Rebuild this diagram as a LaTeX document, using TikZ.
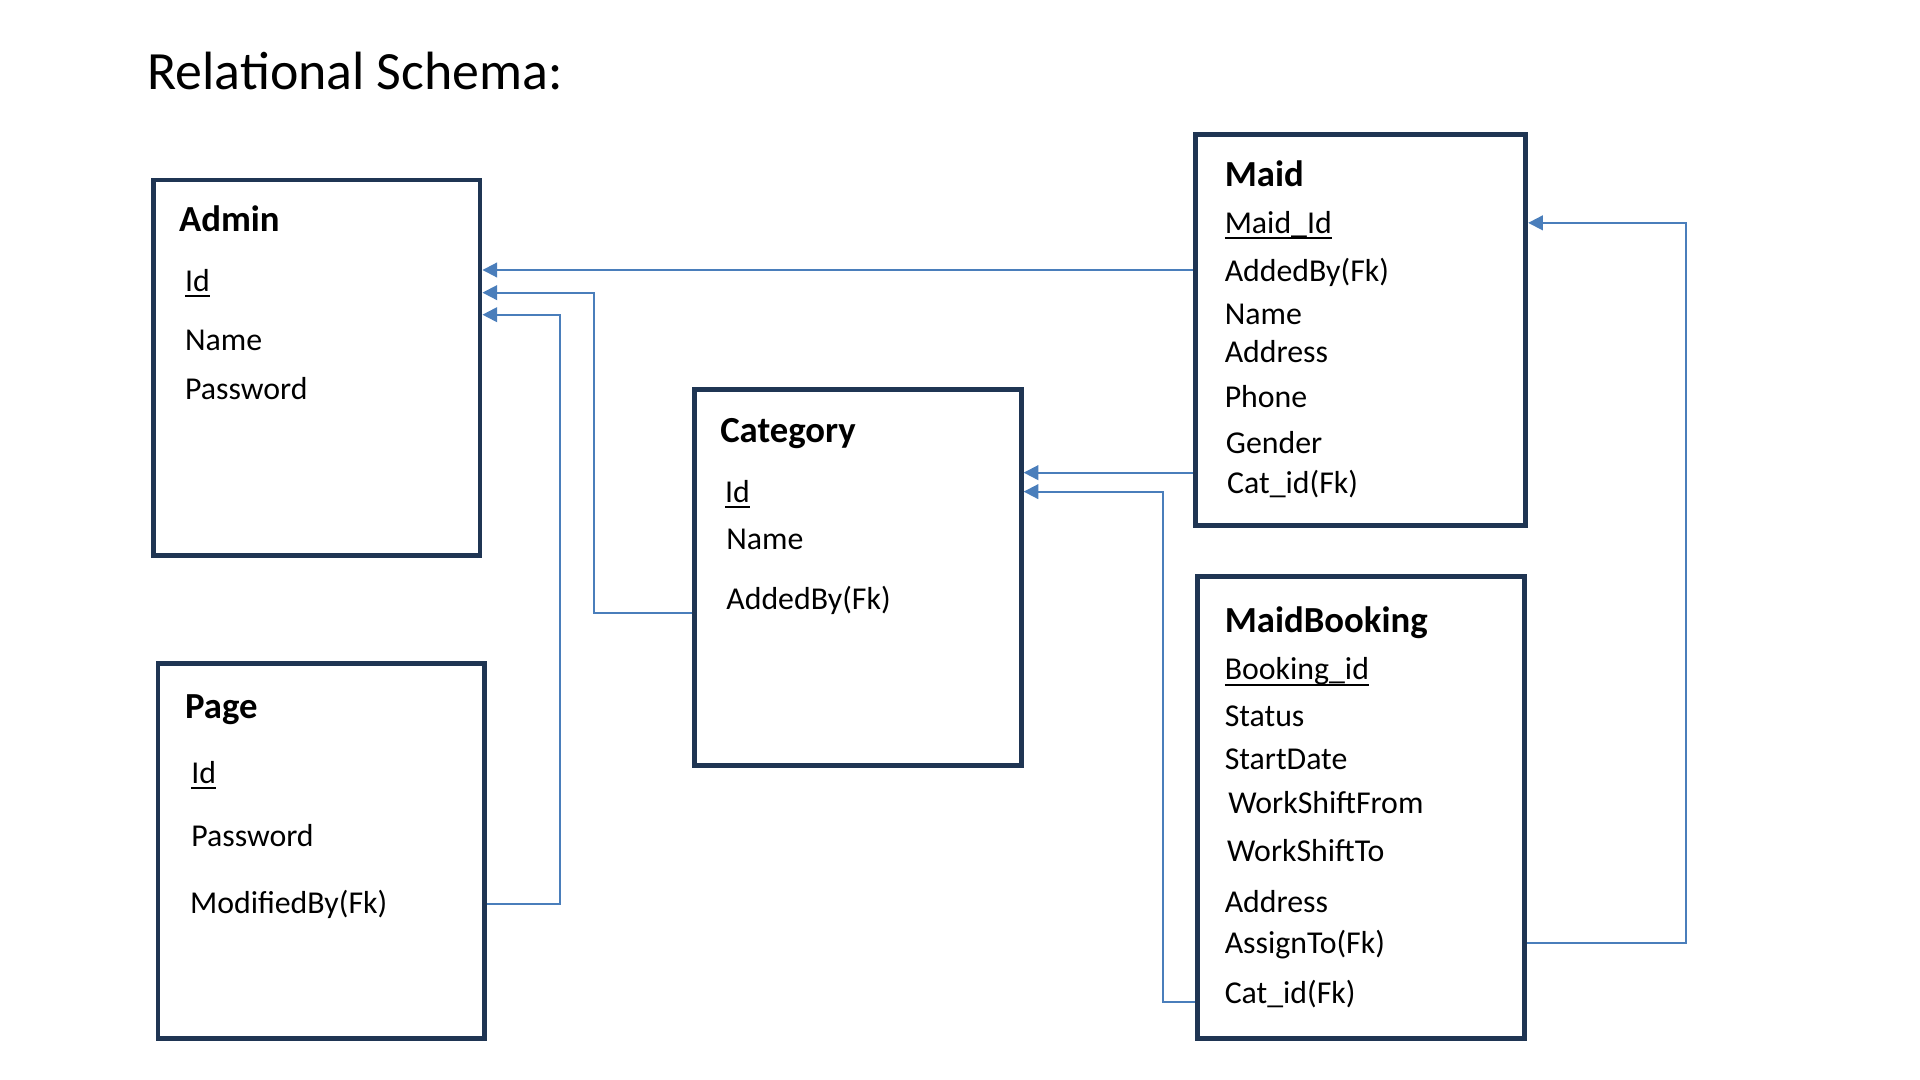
\documentclass[tikz,border=0pt]{standalone}
\usepackage{fontspec}
\setmainfont{Carlito}
\usetikzlibrary{arrows.meta}
\definecolor{boxnavy}{RGB}{31,53,83}
\definecolor{lineblue}{RGB}{74,126,187}
\newcommand{\uln}[1]{\setbox0\hbox{#1}\rlap{\rule[-4.6pt]{\wd0}{1.5pt}}\box0}
\tikzset{
  tbl/.style={draw=boxnavy, line width=4pt, fill=white, inner sep=0pt},
  attr/.style={anchor=base west, inner sep=0pt, font=\fontsize{26}{31}\selectfont},
  ttl/.style={anchor=base west, inner sep=0pt, font=\fontsize{30}{36}\selectfont\bfseries},
  fk/.style={draw=lineblue, line width=1.6pt, -{Triangle[length=12pt,width=12pt]}}
}
\begin{document}
\begin{tikzpicture}[x=1pt,y=-1pt]
\useasboundingbox[fill=white] (0,0) rectangle (1568,882);
% title
\node[anchor=base west, inner sep=0pt, font=\fontsize{44}{52}\selectfont] (title) at (120,73) {Relational Schema:};
% boxes
\node[tbl, minimum width=267pt, minimum height=307pt] (admin) at (258.5,300.5) {};
\node[tbl, minimum width=267pt, minimum height=306pt] (page) at (262.5,695) {};
\node[tbl, minimum width=267pt, minimum height=307pt] (category) at (700.5,471.5) {};
\node[tbl, minimum width=270pt, minimum height=319pt] (maid) at (1111,269.5) {};
\node[tbl, minimum width=267pt, minimum height=377pt] (booking) at (1111.5,659.5) {};
% Admin
\node[ttl] (adminT) at (146,189) {Admin};
\node[attr] (adminId) at (151,238) {\uln{Id}};
\node[attr] (adminName) at (151,286) {Name};
\node[attr] (adminPw) at (151,326) {Password};
% Category
\node[ttl] (catT) at (588,361) {Category};
\node[attr] (catId) at (592,410) {\uln{Id}};
\node[attr] (catName) at (593,449) {Name};
\node[attr] (catAdded) at (593,497.5) {AddedBy(Fk)};
% Maid
\node[ttl] (maidT) at (1000,152.4) {Maid};
\node[attr] (maidId) at (1000,190.6) {\uln{Maid\_Id}};
\node[attr] (maidAdded) at (1000,230) {AddedBy(Fk)};
\node[attr] (maidName) at (1000,265) {Name};
\node[attr] (maidAddr) at (1000,296) {Address};
\node[attr] (maidPhone) at (1000,332.6) {Phone};
\node[attr] (maidGender) at (1001,370) {Gender};
\node[attr] (maidCat) at (1002,403.4) {Cat\_id(Fk)};
% MaidBooking
\node[ttl] (bkT) at (1000,516.7) {MaidBooking};
\node[attr] (bkId) at (1000,555.3) {\uln{Booking\_id}};
\node[attr] (bkStatus) at (1000,593.4) {Status};
\node[attr] (bkStart) at (1000,628.8) {StartDate};
\node[attr] (bkFrom) at (1003,664.2) {WorkShiftFrom};
\node[attr] (bkTo) at (1002,703.7) {WorkShiftTo};
\node[attr] (bkAddr) at (1000,745.3) {Address};
\node[attr] (bkAssign) at (1000,778.5) {AssignTo(Fk)};
\node[attr] (bkCat) at (1000,819.4) {Cat\_id(Fk)};
% Page
\node[ttl] (pageT) at (151,586.6) {Page};
\node[attr] (pageId) at (156,639.7) {\uln{Id}};
\node[attr] (pagePw) at (156,691.4) {Password};
\node[attr] (pageMod) at (155,745.9) {ModifiedBy(Fk)};
% connectors
\draw[fk] (maid.west |- 0,220.5) -- (admin.east |- 0,220.5);
\draw[fk] (category.west |- 0,501) -| (485,239) -- (admin.east |- 0,239);
\draw[fk] (page.east |- 0,738) -| (457,257) -- (admin.east |- 0,257);
\draw[fk] (maid.west |- 0,386) -- (category.east |- 0,386);
\draw[fk] (booking.west |- 0,818) -| (950,401.5) -- (category.east |- 0,401.5);
\draw[fk] (booking.east |- 0,770) -| (1377,182) -- (maid.east |- 0,182);
\end{tikzpicture}
\end{document}
